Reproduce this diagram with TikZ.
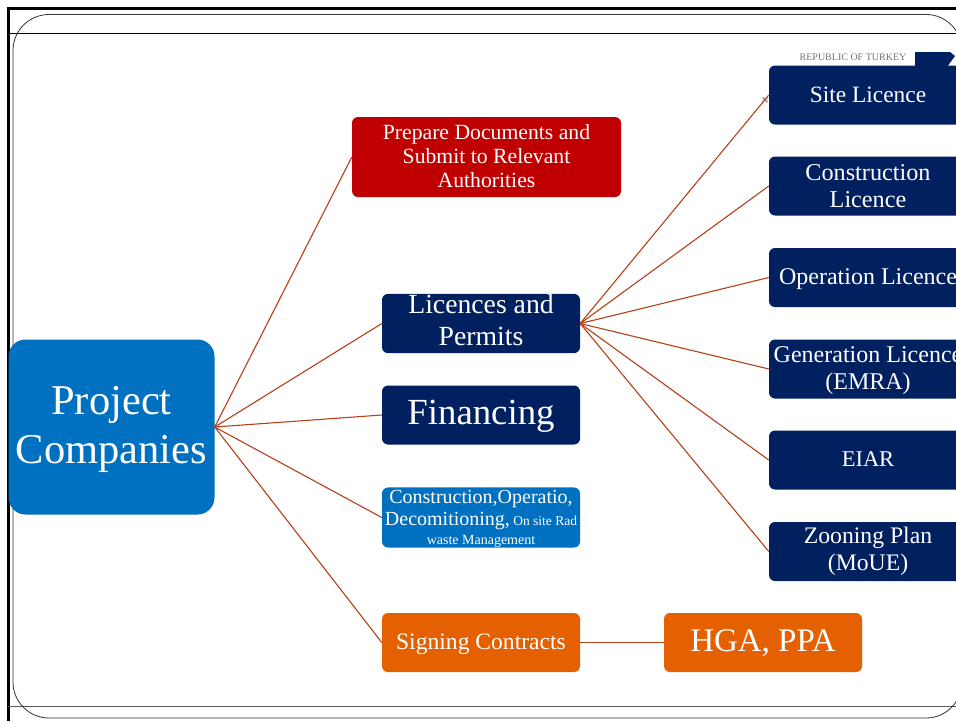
\documentclass[tikz,border=0pt]{standalone}
\usepackage{fontspec}
\setmainfont{Liberation Serif}
\usepackage{xcolor}
\usetikzlibrary{positioning}
\definecolor{navybox}{HTML}{002060}
\definecolor{bluebox}{HTML}{0070C0}
\definecolor{redbox}{HTML}{C00000}
\definecolor{orangebox}{HTML}{E46000}
\definecolor{linkline}{HTML}{B5401A}

\begin{document}
\begin{tikzpicture}[x=1pt,y=-1pt]
    % Define the styles for the boxes and links
    \tikzstyle{box}=[rounded corners=6pt, text=white, align=center, minimum width=198pt, minimum height=59pt, inner sep=0pt];
    \tikzstyle{navy}=[box, fill=navybox];
    \tikzstyle{link}=[draw=linkline, line width=1.1pt];

    \useasboundingbox (0,0) rectangle (956,721);
    \clip (0,0) rectangle (956,721);

    % Slide frame
    \fill[white] (0,0) rectangle (956,721);
    \draw[line width=3.2pt] (956,8.5) -- (8.5,8.5) -- (8.5,721);
    \draw[line width=0.8pt] (8,33) -- (956,33);
    \draw[line width=0.9pt, black!65] (8,706.5) -- (956,706.5);
    \draw[line width=0.8pt, black!80, rounded corners=36pt] (13,14.5) rectangle (962,718);

    % Logo behind the boxes
    \node[text=black!55, font=\fontsize{10}{10}\selectfont, inner sep=0pt] (republic) at (853,57) {REPUBLIC OF TURKEY};
    \fill[navybox] (915,52) -- (950,52) -- (955,56) -- (947,67) -- (915,67) -- cycle;
    \node[text=black!60, font=\fontsize{9}{9}\selectfont, inner sep=0pt] (mark) at (765,101) {N};

    % Left hub
    \node[box, fill=bluebox, minimum width=206pt, minimum height=175pt, rounded corners=17pt,
        font=\fontsize{42.5}{49}\selectfont] (project) at (111.5,427) {\rule{0pt}{33pt}Project\\Companies};

    % Middle column
    \node[box, fill=redbox, minimum width=269pt, minimum height=80pt,
        font=\fontsize{21.7}{24}\selectfont] (documents) at (486.5,157) {Prepare Documents and\\Submit to Relevant\\Authorities\rule[-2.5pt]{0pt}{1pt}};
    \node[navy, font=\fontsize{27.7}{32}\selectfont] (licences) at (481,323.5) {Licences and\\Permits\rule[-8pt]{0pt}{1pt}};
    \node[navy, font=\fontsize{36.8}{40}\selectfont] (financing) at (481,415) {\rule{0pt}{27pt}Financing};
    \node[box, fill=bluebox, font=\fontsize{20}{22}\selectfont] (construction) at (481,517.5)
        {\rule{0pt}{16pt}Construction,Operatio,\\Decomitioning,{\fontsize{13.5}{15}\selectfont{} On site Rad}\\[-3pt]{\fontsize{14}{15}\selectfont waste Management}};
    \node[box, fill=orangebox, font=\fontsize{23.6}{26}\selectfont] (signing) at (481,642.5) {\rule{0pt}{20pt}Signing Contracts};
    \node[box, fill=orangebox, font=\fontsize{33}{38}\selectfont] (hga) at (763,642.5) {\rule{0pt}{24pt}HGA, PPA};

    % Right column
    \node[navy, font=\fontsize{23.4}{27}\selectfont] (site) at (868,95) {Site Licence};
    \node[navy, font=\fontsize{24.2}{27}\selectfont] (building) at (868,186) {Construction\\Licence};
    \node[navy, font=\fontsize{24}{27}\selectfont] (operation) at (868,277.5) {\rule{0pt}{20pt}Operation Licence};
    \node[navy, font=\fontsize{24}{27}\selectfont] (generation) at (868,369) {\rule{0pt}{20pt}Generation Licence\\(EMRA)};
    \node[navy, font=\fontsize{22.5}{27}\selectfont] (eiar) at (868,460) {EIAR\rule[-2pt]{0pt}{1pt}};
    \node[navy, font=\fontsize{23.7}{27}\selectfont] (zooning) at (868,551.5) {Zooning Plan\\(MoUE)};

    % Links from the hub
    \draw[link] (project.east) -- (documents.west);
    \draw[link] (project.east) -- (licences.west);
    \draw[link] (project.east) -- (financing.west);
    \draw[link] (project.east) -- (construction.west);
    \draw[link] (project.east) -- (signing.west);

    % Links from the licences box
    \draw[link] (licences.east) -- (site.west);
    \draw[link] (licences.east) -- (building.west);
    \draw[link] (licences.east) -- (operation.west);
    \draw[link] (licences.east) -- (generation.west);
    \draw[link] (licences.east) -- (eiar.west);
    \draw[link] (licences.east) -- (zooning.west);

    \draw[link] (signing.east) -- (hga.west);
\end{tikzpicture}
\end{document}
